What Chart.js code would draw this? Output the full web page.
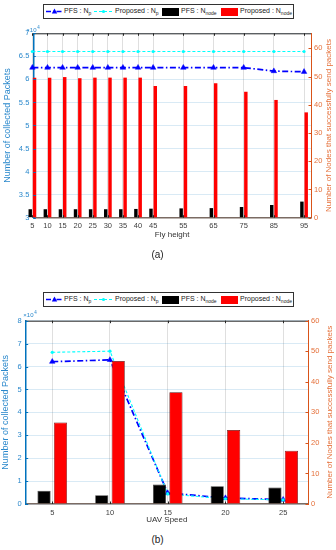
<!DOCTYPE html>
<html>
<head>
<meta charset="utf-8">
<script src="https://cdn.jsdelivr.net/npm/chart.js@4.4.1/dist/chart.umd.min.js"></script>
<style>
body{margin:0;background:#fff;font-family:"Liberation Sans",Arial,sans-serif}
#wrap{position:relative;width:336px;height:550px;overflow:hidden;background:#fff}
canvas{position:absolute;left:0}
.legend{position:absolute;left:43px;width:249px;height:13px;border:1px solid #333;background:#fff;font-size:7px;color:#222;line-height:8px}
.legend span{position:absolute;top:2px;white-space:nowrap}
.legend sub{font-size:5px;vertical-align:-2px;line-height:0}
.legend svg,.legend i{position:absolute}
.legend i{top:3px;width:17px;height:8px}
.cap{position:absolute;left:0;width:315px;text-align:center;font-size:10px;color:#222}
</style>
</head>
<body>
<div id="wrap">
  <canvas id="chartA" width="336" height="250" style="top:0"></canvas>
  <canvas id="chartB" width="336" height="260" style="top:270px"></canvas>

  <div class="legend" style="top:4px">
    <svg style="left:2px;top:1px" width="18" height="11"><line x1="0" y1="5.5" x2="17" y2="5.5" stroke="#0000ff" stroke-width="1.5" stroke-dasharray="5,2,1.5,2"/><polygon points="8.5,2.5 11.2,7.5 5.8,7.5" fill="#0000ff"/></svg>
    <span style="left:20px">PFS : N<sub>p</sub></span>
    <svg style="left:50px;top:1px" width="19" height="11"><line x1="0" y1="5.5" x2="19" y2="5.5" stroke="#00ffff" stroke-width="1" stroke-dasharray="3,2"/><circle cx="9.5" cy="5.5" r="1.6" fill="#00ffff"/></svg>
    <span style="left:71px">Proposed : N<sub>p</sub></span>
    <i style="left:118px;background:#000"></i>
    <span style="left:137px">PFS : N<sub>node</sub></span>
    <i style="left:177px;background:#ff0000"></i>
    <span style="left:196px">Proposed : N<sub>node</sub></span>
  </div>
  <div class="cap" style="top:249px">(a)</div>

  <div class="legend" style="top:292px">
    <svg style="left:2px;top:1px" width="18" height="11"><line x1="0" y1="5.5" x2="17" y2="5.5" stroke="#0000ff" stroke-width="1.5" stroke-dasharray="5,2,1.5,2"/><polygon points="8.5,2.5 11.2,7.5 5.8,7.5" fill="#0000ff"/></svg>
    <span style="left:20px">PFS : N<sub>p</sub></span>
    <svg style="left:50px;top:1px" width="19" height="11"><line x1="0" y1="5.5" x2="19" y2="5.5" stroke="#00ffff" stroke-width="1" stroke-dasharray="3,2"/><circle cx="9.5" cy="5.5" r="1.6" fill="#00ffff"/></svg>
    <span style="left:71px">Proposed : N<sub>p</sub></span>
    <i style="left:118px;background:#000"></i>
    <span style="left:137px">PFS : N<sub>node</sub></span>
    <i style="left:177px;background:#ff0000"></i>
    <span style="left:196px">Proposed : N<sub>node</sub></span>
  </div>
  <div class="cap" style="top:534px">(b)</div>
</div>

<script>
// (a) fly height
var heights = [5, 10, 15, 20, 25, 30, 35, 40, 45, 55, 65, 75, 85, 95]
var pfsNpA = [62550, 62550, 62550, 62550, 62550, 62550, 62550, 62550, 62550, 62550, 62550, 62550, 61800, 61650]
var propNpA = [66050, 66050, 66050, 66050, 66050, 66050, 66050, 66050, 66050, 66050, 66050, 66050, 66050, 66050]
var pfsNodeA = [3.0, 3.0, 3.0, 3.0, 3.0, 3.0, 3.0, 3.1, 3.2, 3.3, 3.4, 3.8, 4.5, 5.7]
var propNodeA = [49.6, 49.6, 49.8, 49.4, 49.6, 49.6, 49.6, 49.6, 46.6, 46.6, 47.6, 44.6, 41.7, 37.3]

// (b) UAV speed
var speeds = [5, 10, 15, 20, 25]
var pfsNpB = [62100, 62900, 4800, 2600, 1900]
var propNpB = [66200, 66700, 4400, 2300, 1800]
var pfsNodeB = [4.3, 2.9, 6.4, 5.8, 5.4]
var propNodeB = [26.7, 46.8, 36.6, 24.2, 17.4]

var FONT = '"Liberation Sans", Arial, sans-serif'
var LEFT_TXT = '#2a88cc', RIGHT_TXT = '#e5703a'

function pts(xs, ys) {
	return xs.map(function(x, i) { return {x: x, y: ys[i]} })
}

// box top line, inward ticks, x10^4 and the right title
var extras = {
	id: 'extras',
	afterDatasetsDraw: function(chart, args, o) {
		var a = chart.chartArea, c = chart.ctx
		var sx = chart.scales.x, sy = chart.scales.y, sy1 = chart.scales.y1
		c.save()
		c.lineWidth = 1
		c.strokeStyle = '#262626'
		c.beginPath(); c.moveTo(a.left, a.top + 0.5); c.lineTo(a.right, a.top + 0.5); c.stroke()
		sx.ticks.forEach(function(t) {
			var px = Math.round(sx.getPixelForValue(t.value)) + 0.5
			c.beginPath(); c.moveTo(px, a.top); c.lineTo(px, a.top + 2.5)
			c.moveTo(px, a.bottom); c.lineTo(px, a.bottom - 2.5); c.stroke()
		})
		c.strokeStyle = '#0072BD'
		sy.ticks.forEach(function(t) {
			var py = Math.round(sy.getPixelForValue(t.value)) + 0.5
			c.beginPath(); c.moveTo(a.left, py); c.lineTo(a.left + 2.5, py); c.stroke()
		})
		c.strokeStyle = '#D95319'
		sy1.ticks.forEach(function(t) {
			var py = Math.round(sy1.getPixelForValue(t.value)) + 0.5
			c.beginPath(); c.moveTo(a.right, py); c.lineTo(a.right - 2.5, py); c.stroke()
		})
		c.fillStyle = LEFT_TXT
		c.font = '6px ' + FONT
		c.fillText('×10', a.left + o.expX, a.top + o.expY)
		c.font = '4.5px ' + FONT
		c.fillText('4', a.left + o.expX + 11, a.top + o.expY - 3)
		c.translate(o.rtX, (a.top + a.bottom) / 2)
		c.rotate(-Math.PI / 2)
		c.textAlign = 'center'
		c.textBaseline = 'middle'
		c.fillStyle = RIGHT_TXT
		c.font = '8px ' + FONT
		c.fillText('Number of Nodes that successfully send packets', 0, 0)
		c.restore()
	}
}

function makeChart(id, o) {
	var ctx = document.getElementById(id).getContext('2d')
	return new Chart(ctx, {
		type: 'bar',
		data: {
			datasets: [
				{
					type: 'line', label: 'PFS : Np', data: pts(o.x, o.pfsNp), yAxisID: 'y',
					borderColor: '#0000ff', backgroundColor: '#0000ff', borderWidth: 1.7,
					borderDash: [6, 2.5, 1.5, 2.5], pointStyle: 'triangle', pointRadius: 3.2,
					pointBorderWidth: 0.5, clip: false, order: 2
				},
				{
					type: 'line', label: 'Proposed : Np', data: pts(o.x, o.propNp), yAxisID: 'y',
					borderColor: '#00ffff', backgroundColor: '#00ffff', borderWidth: 1.1,
					borderDash: [3, 2], pointRadius: 1.6, pointBorderWidth: 0, clip: false, order: 1
				},
				{
					label: 'PFS : Nnode', data: pts(o.x, o.pfsNode), yAxisID: 'y1',
					backgroundColor: '#000000', borderColor: '#333', borderWidth: o.barBorder,
					categoryPercentage: 0.57, barPercentage: 0.8, clip: false, order: 0
				},
				{
					label: 'Proposed : Nnode', data: pts(o.x, o.propNode), yAxisID: 'y1',
					backgroundColor: '#ff0000', borderColor: '#5a1010', borderWidth: o.barBorder,
					categoryPercentage: 0.57, barPercentage: 0.8, clip: false, order: 0
				}
			]
		},
		options: {
			responsive: false,
			animation: false,
			devicePixelRatio: 1,
			layout: {padding: {top: o.padTop, left: 0, right: 0, bottom: 0}},
			plugins: {
				legend: {display: false},
				tooltip: {enabled: false},
				extras: {expX: o.expX, expY: o.expY, rtX: o.rtX}
			},
			scales: {
				x: {
					type: 'linear', min: o.xMin, max: o.xMax, offset: false,
					afterBuildTicks: function(s) { s.ticks = o.x.map(function(v) { return {value: v} }) },
					afterFit: function(s) { s.height = o.xH },
					grid: {color: 'rgba(38,38,38,0.15)', drawTicks: false, offset: false},
					border: {color: '#7b6b63', width: 1.5},
					ticks: {color: '#404040', font: {size: 7.5, family: FONT}, padding: 4, maxRotation: 0, autoSkip: false},
					title: {display: true, text: o.xTitle, color: '#333', font: {size: 8, family: FONT}, padding: {top: 0, bottom: o.xTitlePad}}
				},
				y: {
					position: 'left', min: o.yMin, max: o.yMax,
					afterFit: function(s) { s.width = o.leftW },
					grid: {color: 'rgba(0,114,189,0.15)', drawTicks: false},
					border: {color: '#0072BD', width: 1.5},
					ticks: {
						stepSize: o.yStep, color: LEFT_TXT, font: {size: 7.5, family: FONT}, padding: 4,
						callback: function(v) { return v / 10000 }
					},
					title: {display: true, text: 'Number of collected Packets', color: LEFT_TXT, font: {size: 9, family: FONT}, padding: {top: o.lTitlePad, bottom: 0}}
				},
				y1: {
					position: 'right', min: 0, max: o.y1Max,
					afterFit: function(s) { s.width = o.rightW },
					grid: {drawOnChartArea: false, drawTicks: false},
					border: {color: '#D95319', width: 1},
					ticks: {stepSize: 10, includeBounds: false, color: RIGHT_TXT, font: {size: 7.5, family: FONT}, padding: 3}
				}
			}
		},
		plugins: [extras]
	})
}

makeChart('chartA', {
	x: heights, pfsNp: pfsNpA, propNp: propNpA, pfsNode: pfsNodeA, propNode: propNodeA,
	xMin: 5.3, xMax: 97.3, yMin: 30000, yMax: 70000, yStep: 5000, y1Max: 65.3,
	padTop: 33.3, leftW: 33.3, rightW: 25, xH: 32.3, xTitle: 'Fly height', xTitlePad: 10,
	lTitlePad: 2, barBorder: 0, expX: -7, expY: -1.5, rtX: 329
})

makeChart('chartB', {
	x: speeds, pfsNp: pfsNpB, propNp: propNpB, pfsNode: pfsNodeB, propNode: propNodeB,
	xMin: 2.7, xMax: 27.15, yMin: 0, yMax: 80000, yStep: 10000, y1Max: 60,
	padTop: 50.7, leftW: 25.7, rightW: 28, xH: 26, xTitle: 'UAV Speed', xTitlePad: 5,
	lTitlePad: 0.5, barBorder: 0.7, expX: -2.4, expY: -4, rtX: 330
})
</script>
</body>
</html>
